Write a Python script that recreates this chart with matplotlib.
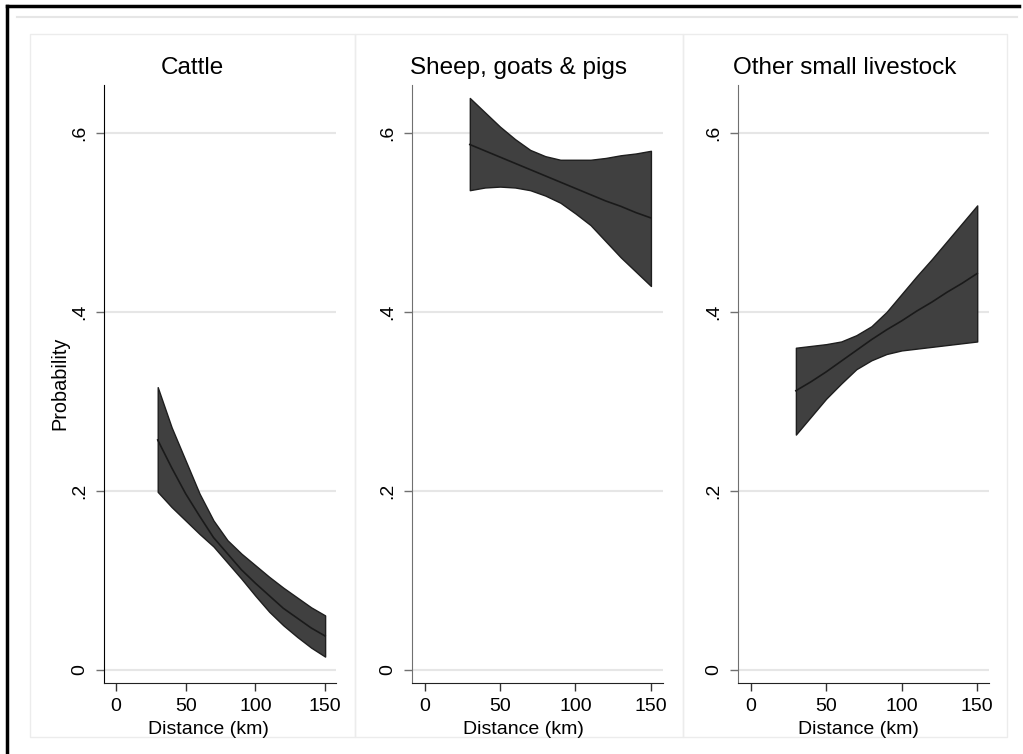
import numpy as np
import matplotlib.pyplot as plt
from matplotlib.patches import Rectangle
from matplotlib.lines import Line2D

plt.rcParams['font.family'] = ['Liberation Sans', 'DejaVu Sans']

# predicted probabilities with 95% CI
dist = [30, 40, 50, 60, 70, 80, 90, 100, 110, 120, 130, 140, 150]

cattle_hi = [.316, .271, .234, .197, .167, .145, .130, .117, .104, .092, .081, .070, .061]
cattle_mean = [.257, .226, .197, .172, .148, .130, .112, .097, .083, .069, .058, .047, .038]
cattle_lo = [.199, .182, .167, .152, .138, .120, .102, .083, .065, .050, .037, .025, .015]

sheep_hi = [.639, .623, .607, .593, .581, .574, .570, .570, .570, .572, .575, .577, .580]
sheep_mean = [.587, .580, .573, .566, .559, .552, .545, .538, .531, .524, .518, .511, .505]
sheep_lo = [.536, .539, .540, .539, .536, .530, .522, .510, .497, .479, .461, .445, .429]

other_hi = [.360, .362, .364, .367, .374, .384, .400, .420, .440, .459, .479, .499, .519]
other_mean = [.312, .322, .333, .345, .357, .369, .380, .390, .401, .411, .422, .432, .443]
other_lo = [.263, .283, .303, .320, .336, .346, .353, .357, .359, .361, .363, .365, .367]

titles = ['Cattle', 'Sheep, goats & pigs', 'Other small livestock']
lows = [cattle_lo, sheep_lo, other_lo]
means = [cattle_mean, sheep_mean, other_mean]
highs = [cattle_hi, sheep_hi, other_hi]

yticks = [0, .2, .4, .6]
ytick_labels = ['0', '.2', '.4', '.6']
xticks = [0, 50, 100, 150]

W, H = 1023, 754
fig = plt.figure(figsize=(W / 100, H / 100), dpi=100)

def fx(px):
    return px / W

def fy(py):
    return 1 - py / H

# outer frame (left + top) and inner grey rule
fig.add_artist(Line2D([fx(7), fx(1019)], [fy(6), fy(6)], color='black', lw=2.5))
fig.add_artist(Line2D([fx(7), fx(7)], [fy(6), fy(754)], color='black', lw=2.5))
fig.add_artist(Line2D([fx(17), fx(1017)], [fy(17), fy(17)], color='#e6e6e6', lw=1.5))

# panel boxes
panel_edges = [(30, 355), (355, 683), (683, 1007)]
for l, r in panel_edges:
    fig.add_artist(Rectangle((fx(l), fy(737)), fx(r - l), (737 - 34) / H,
                             fill=False, edgecolor='#ececec', lw=1))

axes_px = [(104, 336), (411.7, 662.7), (737.7, 989)]
xlabel_centers = [208, 523, 858]

for i in range(3):
    l, r = axes_px[i]
    ax = fig.add_axes([fx(l), fy(683), fx(r - l), (683 - 85) / H])
    ax.fill_between(dist, lows[i], highs[i], facecolor='#404040',
                    edgecolor='#1e1e1e', lw=1, zorder=3)
    ax.plot(dist, means[i], color='#1a1a1a', lw=1.2, zorder=4)
    ax.set_xlim(-8.5, 157.8)
    ax.set_ylim(-0.0145, 0.6535)
    ax.set_yticks(yticks)
    ax.set_yticklabels(ytick_labels, rotation=90, va='center')
    ax.set_xticks(xticks)
    ax.grid(axis='y', color='#e6e6e6', lw=1.5, zorder=0)
    ax.set_axisbelow(True)
    for s in ['top', 'right']:
        ax.spines[s].set_visible(False)
    ax.spines['left'].set_color('black' if i == 0 else '#707070')
    ax.spines['bottom'].set_color('#222222')
    ax.tick_params(axis='y', length=6, width=1, color='#707070', pad=5, labelsize=14)
    ax.tick_params(axis='x', length=6, width=1, color='#333333', pad=5, labelsize=14)
    ax.patch.set_alpha(0)

    cx = (panel_edges[i][0] + panel_edges[i][1]) / 2
    fig.text(fx(cx), fy(68), titles[i], ha='center', va='center', fontsize=17.5)
    fig.text(fx(xlabel_centers[i]), fy(729), 'Distance (km)', ha='center',
             va='center', fontsize=14)

fig.text(fx(60), fy(383), 'Probability', rotation=90, ha='center', va='center',
         fontsize=14.3)

fig.savefig('out.png', dpi=100, facecolor='white')
